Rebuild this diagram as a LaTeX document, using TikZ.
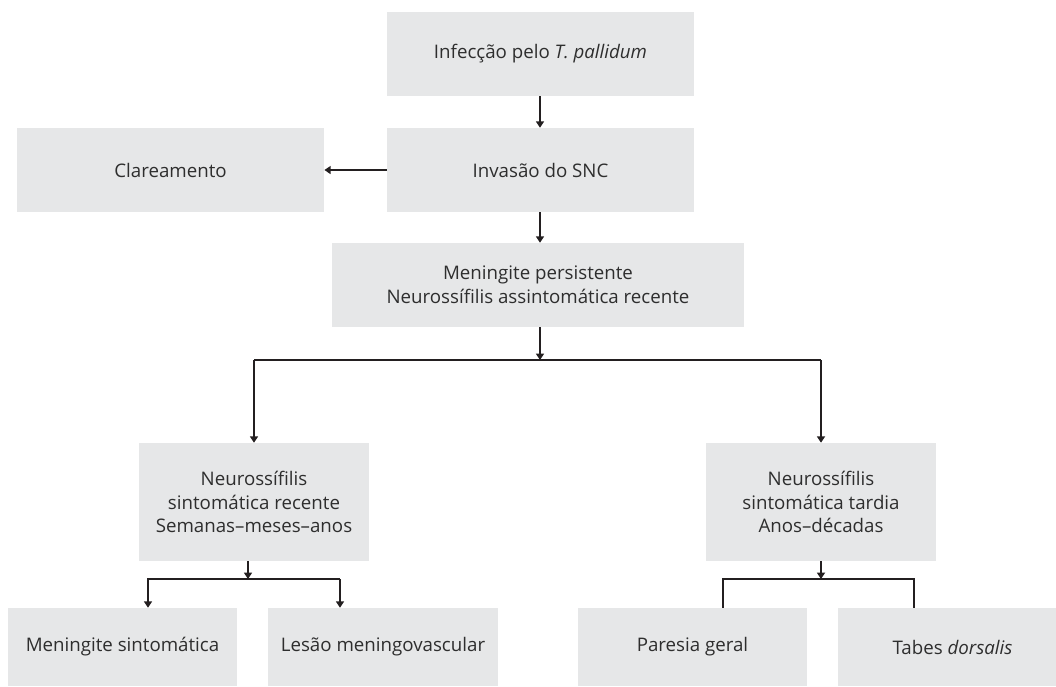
\documentclass[tikz,border=0pt]{standalone}
\usepackage{fontspec}
\setmainfont{Open Sans}
\usepackage{tikz}
\usetikzlibrary{arrows.meta, positioning, calc}

\definecolor{boxgray}{HTML}{E6E7E8}
\definecolor{txtgray}{HTML}{2E2E2E}
\definecolor{linegray}{HTML}{231F20}

\begin{document}
\begin{tikzpicture}[x=0.025cm, y=-0.025cm,
        font=\fontsize{13.3}{16.8}\selectfont,
        stage/.style={fill=boxgray, text=txtgray, align=center, inner sep=2pt, minimum width=5.725cm, minimum height=1.95cm},
        wide/.style={stage, minimum width=7.675cm, minimum height=2.1cm},
        tall/.style={stage, minimum height=2.95cm},
        arr/.style={-{Triangle[length=1.6mm, width=2mm]}, line width=1.6pt, draw=linegray},
        link/.style={line width=1.6pt, draw=linegray},
      ]
        \useasboundingbox (0,0) rectangle (1056,686);

        % top column
        \node[wide] (infec) at (540.5, 54) {Infecção pelo \textit{T. pallidum}};
        \node[wide] (invasao) at (540.5, 170) {Invasão do SNC};
        \node[wide] (clar) at (170.5, 170) {Clareamento};
        \node[wide, minimum width=10.3cm] (mening) at (538, 285) {Meningite persistente\\Neurossífilis assintomática recente};

        % middle row
        \node[tall] (neuroRec) at (254, 502) {Neurossífilis\\sintomática recente\\Semanas–meses–anos};
        \node[tall] (neuroTar) at (821, 502) {Neurossífilis\\sintomática tardia\\Anos–décadas};

        % bottom row
        \node[stage] (meningSint) at (122.5, 647) {Meningite sintomática};
        \node[stage] (lesao) at (383, 647) {Lesão meningovascular};
        \node[stage] (paresia) at (692.5, 647) {Paresia geral};
        \node[stage] (tabes) at (952.5, 647) {Tabes \textit{dorsalis}};

        % branch points
        \coordinate (jTop) at (540, 360);
        \coordinate (jRec) at (248, 579);
        \coordinate (jTar) at (821, 579);
        \coordinate (bMen) at (148, 579);
        \coordinate (bLes) at (340, 579);
        \coordinate (bPar) at (723, 579);
        \coordinate (bTab) at (914, 579);

        % arrows down the top column
        \draw[arr] (infec.south -| jTop) -- (invasao.north -| jTop);
        \draw[arr] (invasao.west) -- (clar.east);
        \draw[arr] (invasao.south -| jTop) -- (mening.north -| jTop);

        % split into recent and late
        \draw[arr] (mening.south -| jTop) -- (jTop);
        \draw[link] (neuroRec.north |- jTop) -- (neuroTar.north |- jTop);
        \draw[arr] (neuroRec.north |- jTop) -- (neuroRec.north);
        \draw[arr] (neuroTar.north |- jTop) -- (neuroTar.north);

        % recent branch
        \draw[arr] (neuroRec.south -| jRec) -- (jRec);
        \draw[arr] (bLes) -| (bMen) -- (bMen |- meningSint.north);
        \draw[arr] (bLes) -- (bLes |- lesao.north);

        % late branch
        \draw[arr] (neuroTar.south -| jTar) -- (jTar);
        \draw[link] (bPar |- paresia.north) -- (bPar) -- (bTab) -- (bTab |- tabes.north);
      \end{tikzpicture}
\end{document}
